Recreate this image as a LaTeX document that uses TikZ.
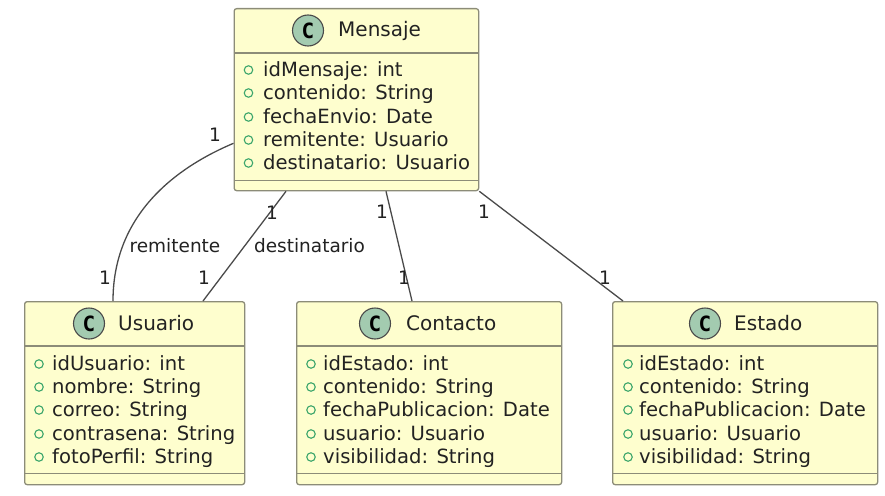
\documentclass[tikz,border=0pt]{standalone}
\usepackage{fontspec}
\setmainfont{DejaVu Sans}
\newfontfamily\markfont{DejaVu Sans Mono}
\definecolor{boxfill}{HTML}{FEFECE}
\definecolor{boxline}{HTML}{8C8C78}
\definecolor{markfill}{HTML}{A3CBB0}
\definecolor{attrmark}{HTML}{3BA56B}
\definecolor{linkline}{HTML}{4A4A4A}
\definecolor{textcol}{HTML}{222222}
\tikzset{
  classbox/.style={draw=boxline, fill=boxfill, line width=1.3pt, rounded corners=2.5pt, anchor=north west, inner sep=0pt},
  classmark/.style={circle, draw=linkline, fill=markfill, line width=1.1pt, minimum size=31pt, inner sep=0pt, font=\markfont\bfseries\fontsize{21}{21}\selectfont},
  classname/.style={anchor=base west, inner sep=0pt, text=textcol, font=\fontsize{20}{20}\selectfont},
  attrtext/.style={anchor=base west, inner sep=0pt, text=textcol, font=\fontsize{19.6}{20}\selectfont},
  attrdot/.style={circle, draw=attrmark, line width=1.1pt, minimum size=8.5pt, inner sep=0pt},
  sepline/.style={draw=boxline, line width=1.3pt},
  linkstyle/.style={draw=linkline, line width=1.3pt},
  linklabel/.style={inner sep=0pt, text=textcol, font=\fontsize{18.5}{19}\selectfont},
}
\begin{document}
\begin{tikzpicture}[x=1pt, y=-1pt]
  \useasboundingbox (0, 0) rectangle (885, 495);
  % classes
  \node (Mensaje) at (233.5, 8) [classbox, minimum width=244.5pt, minimum height=182pt] {};
  \node (Usuario) at (24, 301) [classbox, minimum width=220pt, minimum height=183pt] {};
  \node (Contacto) at (296, 301) [classbox, minimum width=265pt, minimum height=183pt] {};
  \node (Estado) at (612, 301) [classbox, minimum width=265pt, minimum height=183pt] {};
  % separators
  \draw[sepline] ([yshift=-45pt]Mensaje.north west) -- ([yshift=-45pt]Mensaje.north east);
  \draw[sepline] ([yshift=11pt]Mensaje.south west) -- ([yshift=11pt]Mensaje.south east);
  \foreach \cls in {Usuario, Contacto, Estado} {
    \draw[sepline] ([yshift=-45pt]\cls.north west) -- ([yshift=-45pt]\cls.north east);
    \draw[sepline] ([yshift=12pt]\cls.south west) -- ([yshift=12pt]\cls.south east);
  }
  % headers
  \node (markM) at (308, 30.5) [classmark] {C};
  \node (nameM) at (338, 37) [classname] {Mensaje};
  \node (markU) at (89, 323.5) [classmark] {C};
  \node (nameU) at (118, 330) [classname] {Usuario};
  \node (markC) at (375, 323.5) [classmark] {C};
  \node (nameC) at (406, 330) [classname] {Contacto};
  \node (markE) at (705, 323.5) [classmark] {C};
  \node (nameE) at (734, 330) [classname] {Estado};
  % attributes
  \foreach \i/\yy/\txt in {1/76/{idMensaje: int}, 2/99/{contenido: String}, 3/123/{fechaEnvio: Date}, 4/146/{remitente: Usuario}, 5/169/{destinatario: Usuario}} {
    \node (dotM\i) at (248.5, \yy-6) [attrdot] {};
    \node (attrM\i) at (263, \yy) [attrtext] {\txt};
  }
  \foreach \i/\yy/\txt in {1/370/{idUsuario: int}, 2/393/{nombre: String}, 3/416/{correo: String}, 4/440/{contrasena: String}, 5/463/{fotoPerfil: String}} {
    \node (dotU\i) at (39, \yy-6) [attrdot] {};
    \node (attrU\i) at (52, \yy) [attrtext] {\txt};
  }
  \foreach \i/\yy/\txt in {1/370/{idEstado: int}, 2/393/{contenido: String}, 3/416/{fechaPublicacion: Date}, 4/440/{usuario: Usuario}, 5/463/{visibilidad: String}} {
    \node (dotC\i) at (311, \yy-6) [attrdot] {};
    \node (attrC\i) at (323, \yy) [attrtext] {\txt};
    \node (dotE\i) at (628, \yy-6) [attrdot] {};
    \node (attrE\i) at (639, \yy) [attrtext] {\txt};
  }
  % links
  \draw[linkstyle] ([yshift=48pt]Mensaje.south west) .. controls (175, 168) and (113, 215) .. ([xshift=89pt]Usuario.north west);
  \draw[linkstyle] ([xshift=52.5pt]Mensaje.south west) -- ([xshift=179pt]Usuario.north west);
  \draw[linkstyle] ([xshift=152.5pt]Mensaje.south west) -- ([xshift=116pt]Contacto.north west);
  \draw[linkstyle] (Mensaje.south east) -- ([xshift=11pt]Estado.north west);
  % labels
  \node (labRem) at (175, 246) [linklabel] {remitente};
  \node (labDes) at (309.5, 246) [linklabel] {destinatario};
  \node (m1) at (215, 135) [linklabel] {1};
  \node (u1) at (105, 278) [linklabel] {1};
  \node (m2) at (272, 213) [linklabel] {1};
  \node (u2) at (204, 278) [linklabel] {1};
  \node (m3) at (382, 212) [linklabel] {1};
  \node (c1) at (404, 278) [linklabel] {1};
  \node (m4) at (484, 212) [linklabel] {1};
  \node (e1) at (605, 278) [linklabel] {1};
\end{tikzpicture}
\end{document}
